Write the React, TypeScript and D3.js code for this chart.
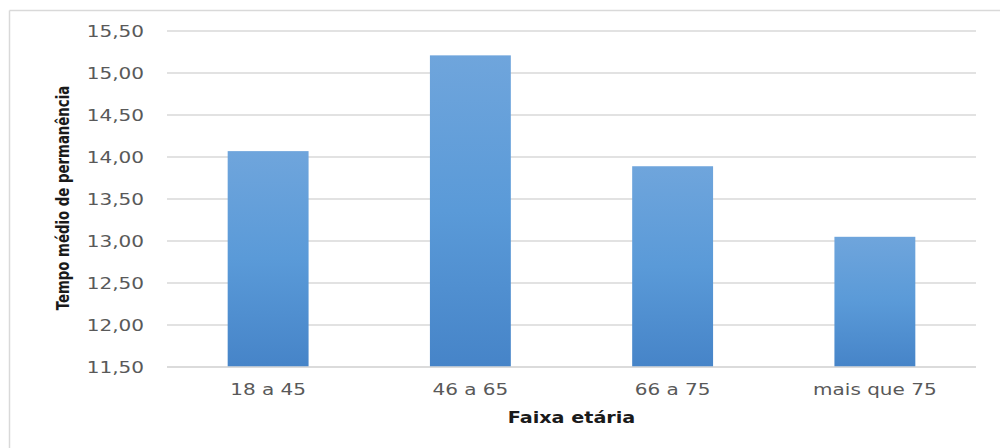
import React from "react";
import * as d3 from "d3";

const categories = ["18 a 45", "46 a 65", "66 a 75", "mais que 75"];
const values = [14.07, 15.21, 13.89, 13.05];
const yTicks = [11.5, 12.0, 12.5, 13.0, 13.5, 14.0, 14.5, 15.0, 15.5];
const xTitle = "Faixa etária";
const yTitle = "Tempo médio de permanência";

const W = 1000;
const H = 448;
const plot = { left: 167, right: 976, top: 31, bottom: 367 };
const SX = 1.25;
const labelFont = "'DejaVu Sans', Verdana, sans-serif";

export default function App() {
  const x = d3
    .scaleBand<string>()
    .domain(categories)
    .range([plot.left, plot.right])
    .paddingInner(0.6)
    .paddingOuter(0.3);
  const y = d3.scaleLinear().domain([11.5, 15.5]).range([plot.bottom, plot.top]);
  const fmt = (v: number) => d3.format(".2f")(v).replace(".", ",");

  return (
    <svg
      width={W}
      height={H}
      style={{ position: "absolute", left: 0, top: 0, background: "#fff" }}
    >
      <defs>
        <linearGradient id="barGrad" x1="0" y1="0" x2="0" y2="1">
          <stop offset="0%" stopColor="#6fa5dc" />
          <stop offset="50%" stopColor="#5a9ad8" />
          <stop offset="100%" stopColor="#4684c8" />
        </linearGradient>
      </defs>
      <rect x={0} y={0} width={W} height={H} fill="#fff" />
      {/* chart border */}
      <line x1={9.5} y1={10.5} x2={W} y2={10.5} stroke="#d9d9d9" strokeWidth={1.5} />
      <line x1={9.5} y1={10.5} x2={9.5} y2={H} stroke="#d9d9d9" strokeWidth={1.5} />

      {/* gridlines */}
      {yTicks.map((t) => (
        <line
          key={"g" + t}
          x1={plot.left}
          x2={plot.right}
          y1={y(t)}
          y2={y(t)}
          stroke="#d9d9d9"
          strokeWidth={1.5}
        />
      ))}

      {/* bars */}
      {categories.map((c, i) => (
        <rect
          key={c}
          x={x(c)!}
          y={y(values[i])}
          width={x.bandwidth()}
          height={y(11.5) - y(values[i])}
          fill="url(#barGrad)"
        />
      ))}

      {/* baseline */}
      <line
        x1={plot.left}
        x2={plot.right}
        y1={y(11.5)}
        y2={y(11.5)}
        stroke="#d9d9d9"
        strokeWidth={1.5}
      />

      {/* y tick labels */}
      {yTicks.map((t) => (
        <text
          key={"t" + t}
          transform={`translate(144, ${y(t) + 6}) scale(${SX},1)`}
          textAnchor="end"
          fontFamily={labelFont}
          fontSize={16}
          fill="#595959"
        >
          {fmt(t)}
        </text>
      ))}

      {/* x category labels */}
      {categories.map((c) => (
        <text
          key={"c" + c}
          transform={`translate(${x(c)! + x.bandwidth() / 2}, 395) scale(${SX},1)`}
          textAnchor="middle"
          fontFamily={labelFont}
          fontSize={16}
          fill="#595959"
        >
          {c}
        </text>
      ))}

      {/* x axis title */}
      <text
        transform={`translate(${(plot.left + plot.right) / 2}, 423) scale(1.2,1)`}
        textAnchor="middle"
        fontFamily={labelFont}
        fontWeight="bold"
        fontSize={16}
        fill="#1a1a1a"
      >
        {xTitle}
      </text>

      {/* y axis title */}
      <text
        transform={`translate(69, 198) rotate(-90) scale(0.87,1)`}
        textAnchor="middle"
        fontFamily="'DejaVu Sans Condensed', 'DejaVu Sans', sans-serif"
        fontStretch="condensed"
        fontWeight="bold"
        fontSize={17}
        fill="#1a1a1a"
      >
        {yTitle}
      </text>
    </svg>
  );
}
